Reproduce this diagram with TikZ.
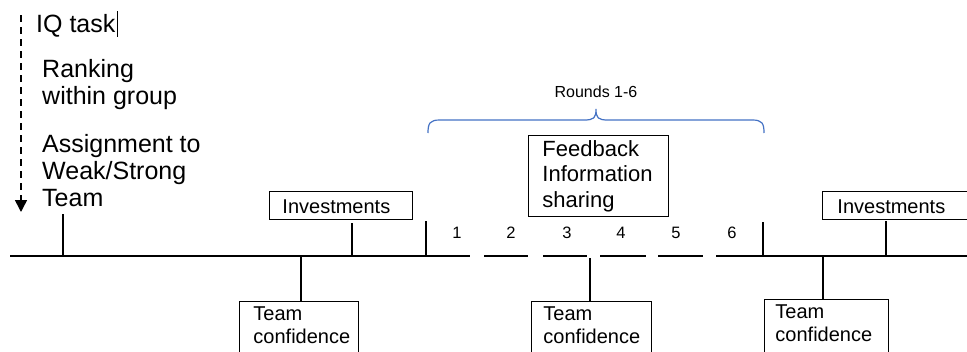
\documentclass[tikz,border=0pt]{standalone}
\usepackage{fontspec}
\setmainfont{Liberation Sans}
\usetikzlibrary{arrows.meta}
\hyphenpenalty=10000
\exhyphenpenalty=10000
\definecolor{braceblue}{HTML}{4472C4}
\begin{document}
\begin{tikzpicture}[x=1pt,y=-1pt,
  timeline/.style={line width=2.5pt},
  tickline/.style={line width=2.5pt},
  box/.style={draw, line width=0.9pt, anchor=north west, align=left, inner ysep=0pt},
  smallbox/.style={box, font=\fontsize{20}{23}\selectfont},
  invbox/.style={smallbox, text height=22pt, text depth=6pt},
  teambox/.style={smallbox, inner ysep=5pt, text depth=60pt},
  lefttext/.style={anchor=north west, inner sep=0pt, align=left, font=\fontsize{25}{27}\selectfont},
  roundnum/.style={anchor=base, inner sep=0pt, font=\fontsize{16.5}{18}\selectfont},
  orderarrow/.style={line width=1.6pt, dash pattern=on 7pt off 5pt, -{Triangle[width=12pt,length=12pt]}},
  bracestyle/.style={draw=braceblue, line width=1.2pt}
]
\useasboundingbox (0,0) rectangle (967,351);

% left texts
\node[lefttext] (iq) at (36,14) {IQ task};
\node[lefttext] (rank) at (42,59) {Ranking\\within group};
\node[lefttext] (assign) at (42,134) {Assignment to\\Weak/Strong\\Team};
\coordinate (curA) at (117,11);
\coordinate (curB) at (117,37);
\draw[line width=0.8pt] (curA) -- (curB);

% dashed arrow
\coordinate (arrS) at (21,15);
\coordinate (arrE) at (21,212);
\draw[orderarrow] (arrS) -- (arrE);

% timeline segments
\coordinate (s1a) at (10,256);  \coordinate (s1b) at (470,256);
\coordinate (s2a) at (484,256); \coordinate (s2b) at (528,256);
\coordinate (s3a) at (543,256); \coordinate (s3b) at (587,256);
\coordinate (s4a) at (600,256); \coordinate (s4b) at (646,256);
\coordinate (s5a) at (658,256); \coordinate (s5b) at (703,256);
\coordinate (s6a) at (716,256); \coordinate (s6b) at (967,256);
\draw[timeline] (s1a) -- (s1b);
\draw[timeline] (s2a) -- (s2b);
\draw[timeline] (s3a) -- (s3b);
\draw[timeline] (s4a) -- (s4b);
\draw[timeline] (s5a) -- (s5b);
\draw[timeline] (s6a) -- (s6b);

% boxes
\node[invbox, inner xsep=13pt, text width=117pt] (inv1) at (269,191) {Investments};
\node[invbox, inner xsep=15pt, text width=140pt] (inv2) at (822,191) {Investments};
\node[teambox, inner xsep=14pt, text width=91pt] (tc1) at (239,301) {Team\\confidence};
\node[teambox, inner xsep=12pt, text width=96pt] (tc2) at (531,301) {Team\\confidence};
\node[teambox, inner xsep=11pt, text width=102pt] (tc3) at (764,299) {Team\\confidence};
\node[box, font=\fontsize{22}{25.5}\selectfont, inner xsep=14pt, text width=112pt, minimum height=81pt] (fb) at (528,135) {Feedback\\Information\\sharing};

% ticks above
\coordinate (t0) at (63,256);    \coordinate (t0top) at (63,214);
\coordinate (ti1) at (352,256);  \coordinate (ti1top) at (352,223);
\coordinate (tr1) at (426,256);  \coordinate (tr1top) at (426,221);
\coordinate (tr2) at (763,256);  \coordinate (tr2top) at (763,222);
\coordinate (ti2) at (886,256);  \coordinate (ti2top) at (886,221);
\draw[tickline] (t0) -- (t0top);
\draw[tickline] (ti1) -- (ti1top);
\draw[tickline] (tr1) -- (tr1top);
\draw[tickline] (tr2) -- (tr2top);
\draw[tickline] (ti2) -- (ti2top);

% ticks below
\coordinate (tb1) at (301,256);
\coordinate (tb2) at (590,258);
\coordinate (tb3) at (823,256);
\draw[tickline] (tb1) -- (tb1 |- tc1.north);
\draw[tickline] (tb2) -- (tb2 |- tc2.north);
\draw[tickline] (tb3) -- (tb3 |- tc3.north);

% round numbers
\node[roundnum] (n1) at (457,238) {1};
\node[roundnum] (n2) at (511,238) {2};
\node[roundnum] (n3) at (567,238) {3};
\node[roundnum] (n4) at (621,238) {4};
\node[roundnum] (n5) at (676,238) {5};
\node[roundnum] (n6) at (732,238) {6};

% brace
\path[bracestyle] (428,133) .. controls (428,123) and (430,120) .. (440,120)
  -- (584,120) .. controls (594,120) and (596,118) .. (596,109)
  .. controls (596,118) and (598,120) .. (608,120)
  -- (752,120) .. controls (762,120) and (764,123) .. (764,133);
\node[font=\fontsize{16}{18}\selectfont, inner sep=0pt] (rounds) at (596,92) {Rounds 1-6};
\end{tikzpicture}
\end{document}
